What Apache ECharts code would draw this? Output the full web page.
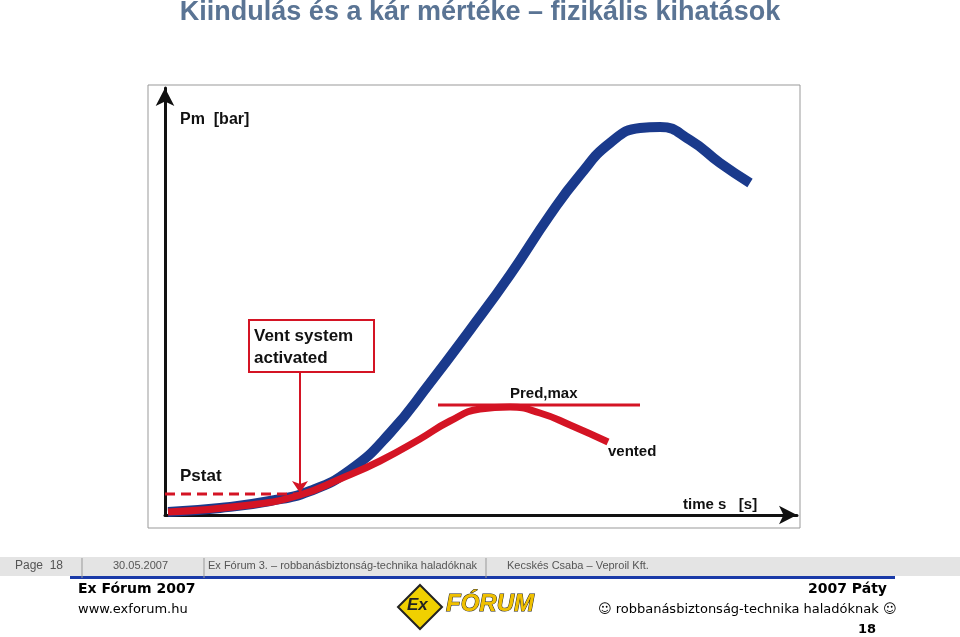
<!DOCTYPE html>
<html><head><meta charset="utf-8">
<script src="https://cdn.jsdelivr.net/npm/echarts@6/dist/echarts.min.js"></script>
<style>html,body{margin:0;background:#fff}#c{width:960px;height:637px}</style></head>
<body><div id="c"></div>
<script>
// time (arbitrary units) vs pressure (arbitrary units)
const bluePm = [[168,3],[220,7],[270,14],[310,24],[350,45],[390,82],[430,132],[470,185],[510,240],[550,300],[580,340],[610,372],[640,387],[660,388],[690,375],[720,352],[750,332]];
const redPm = [[168,3],[250,10],[300,20],[340,36],[380,54],[420,76],[450,94],[480,106],[510,108],[540,102],[570,90],[608,73]];
const predMax = [[438,110],[640,110]];
const pstat = [[165,21],[300,21]];
const vent = [[300,143],[300,22]];

const chart = echarts.init(document.getElementById('c'));
chart.setOption({
  animation:false,
  grid:{left:165,right:163,top:88,bottom:122},
  xAxis:{type:'value',min:165,max:797,axisLine:{lineStyle:{color:'#111',width:3},symbol:['none','arrow'],symbolSize:[14,18]},axisTick:{show:false},axisLabel:{show:false},splitLine:{show:false}},
  yAxis:{type:'value',min:0,max:427,axisLine:{show:true,lineStyle:{color:'#111',width:3},symbol:['none','arrow'],symbolSize:[14,18]},axisTick:{show:false},axisLabel:{show:false},splitLine:{show:false}},
  series:[
    {type:'line',data:bluePm,smooth:true,symbol:'none',lineStyle:{color:'#1a3a8c',width:10},z:3},
    {type:'line',data:redPm,smooth:true,symbol:'none',lineStyle:{color:'#d41424',width:7},z:4},
    {type:'line',data:predMax,symbol:'none',lineStyle:{color:'#d41424',width:3},z:5},
    {type:'line',data:pstat,symbol:'none',lineStyle:{color:'#d41424',width:3,type:[10,6]},z:5},
    {type:'lines',coordinateSystem:'cartesian2d',data:[{coords:vent}],symbol:['none','arrow'],symbolSize:12,lineStyle:{color:'#d41424',width:2,opacity:1},z:5}
  ],
  graphic:[
    {type:'text',left:'center',top:-1,style:{text:'Kiindulás és a kár mértéke – fizikális kihatások',font:'bold 27px Liberation Sans',fill:'#5a7494'}},
    {type:'rect',shape:{x:148,y:85,width:652,height:443},style:{fill:'none',stroke:'#999',lineWidth:1},z:-1},
    {type:'text',x:180,y:112,style:{text:'Pm  [bar]',font:'bold 16px Liberation Sans',fill:'#111'}},
    {type:'rect',shape:{x:249,y:320,width:125,height:52},style:{fill:'#fff',stroke:'#d41424',lineWidth:2}},
    {type:'text',x:254,y:325,style:{text:'Vent system\nactivated',font:'bold 17px Liberation Sans',fill:'#111',lineHeight:22}},
    {type:'text',x:510,y:386,style:{text:'Pred,max',font:'bold 15px Liberation Sans',fill:'#111'}},
    {type:'text',x:608,y:444,style:{text:'vented',font:'bold 15px Liberation Sans',fill:'#111'}},
    {type:'text',x:180,y:468,style:{text:'Pstat',font:'bold 17px Liberation Sans',fill:'#111'}},
    {type:'text',x:683,y:497,style:{text:'time s   [s]',font:'bold 15px Liberation Sans',fill:'#111'}},
    {type:'rect',shape:{x:0,y:557,width:960,height:19},style:{fill:'#e4e4e4'}},
    {type:'rect',shape:{x:70,y:576,width:825,height:3},style:{fill:'#1a3aa8'}},
    {type:'text',x:15,y:560,style:{text:'Page  18',font:'12px Liberation Sans',fill:'#555'}},
    {type:'text',x:113,y:560,style:{text:'30.05.2007',font:'11px Liberation Sans',fill:'#555'}},
    {type:'text',x:208,y:560,style:{text:'Ex Fórum 3. – robbanásbiztonság-technika haladóknak',font:'11px Liberation Sans',fill:'#555'}},
    {type:'text',x:507,y:560,style:{text:'Kecskés Csaba – Veproil Kft.',font:'11px Liberation Sans',fill:'#555'}},
    {type:'line',shape:{x1:82,y1:558,x2:82,y2:578},style:{stroke:'#999'}},
    {type:'line',shape:{x1:204,y1:558,x2:204,y2:578},style:{stroke:'#999'}},
    {type:'line',shape:{x1:486,y1:558,x2:486,y2:578},style:{stroke:'#999'}},
    {type:'text',x:78,y:582,style:{text:'Ex Fórum 2007',font:'bold 14px DejaVu Sans',fill:'#000'}},
    {type:'text',x:78,y:603,style:{text:'www.exforum.hu',font:'13px DejaVu Sans',fill:'#000'}},
    {type:'text',x:808,y:582,style:{text:'2007 Páty',font:'bold 14px DejaVu Sans',fill:'#000'}},
    {type:'text',x:598,y:603,style:{text:'☺ robbanásbiztonság-technika haladóknak ☺',font:'13px DejaVu Sans',fill:'#000'}},
    {type:'text',x:858,y:623,style:{text:'18',font:'bold 13px DejaVu Sans',fill:'#000'}},
    {type:'polygon',shape:{points:[[420,585],[442,607],[420,629],[398,607]]},style:{fill:'#f0d000',stroke:'#222',lineWidth:2}},
    {type:'text',x:407,y:597,style:{text:'Ex',font:'bold italic 17px Liberation Sans',fill:'#222'}},
    {type:'text',x:446,y:592,style:{text:'FÓRUM',font:'bold italic 24px Liberation Sans',fill:'#f0c000',stroke:'#222',lineWidth:1}}
  ]
});
</script></body></html>
